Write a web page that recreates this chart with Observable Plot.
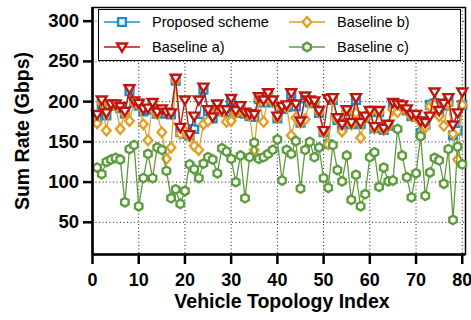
<!DOCTYPE html>
<html><head><meta charset="utf-8">
<script src="https://cdn.jsdelivr.net/npm/d3@7"></script>
<script src="https://cdn.jsdelivr.net/npm/@observablehq/plot@0.6"></script>
<style>
body{margin:0;background:#fff}
svg{font-family:"Liberation Sans",Arial,sans-serif}
[aria-label="x-axis tick label"] text,[aria-label="y-axis tick label"] text{font-weight:bold}
</style>
</head><body><div id="chart"></div>
<script>
const topologyIndex = [1,2,3,4,5,6,7,8,9,10,11,12,13,14,15,16,17,18,19,20,21,22,23,24,25,26,27,28,29,30,31,32,33,34,35,36,37,38,39,40,41,42,43,44,45,46,47,48,49,50,51,52,53,54,55,56,57,58,59,60,61,62,63,64,65,66,67,68,69,70,71,72,73,74,75,76,77,78,79,80];
const proposed = [181,197,183,195,195,192,185,213,199,195,188,190,197,185,188,185,184,226,162,160,158,166,175,215,188,179,195,188,187,201,186,192,185,182,181,203,199,207,199,179,191,193,207,194,174,204,199,198,186,162,147,202,177,170,188,172,202,172,180,187,167,187,165,170,197,195,194,189,182,181,161,171,196,198,186,195,200,158,164,196];
const baselineA = [184,202,186,197,197,194,188,216,201,198,191,192,199,187,191,187,186,229,168,202,159,182,202,218,190,181,197,190,190,204,189,195,187,185,184,206,202,211,202,182,194,196,211,197,176,207,202,201,189,164,204,205,180,172,190,174,205,174,182,189,169,189,167,172,199,197,196,191,184,184,176,174,182,212,189,198,205,171,186,212];
const baselineB = [173,199,164,195,195,166,186,176,199,196,172,152,197,185,162,129,143,227,160,163,157,145,140,172,176,183,195,188,175,176,186,193,185,183,140,203,175,208,200,180,192,194,158,180,174,178,200,199,187,162,147,203,178,163,188,172,186,155,180,187,167,187,165,170,190,187,194,189,182,181,158,168,194,196,182,170,198,160,128,196];
const baselineC = [118,110,125,128,130,128,75,141,146,70,105,135,105,143,140,114,80,91,73,89,122,116,105,123,131,128,111,142,138,129,100,133,80,131,149,129,131,135,140,153,102,140,135,151,92,140,150,131,143,105,93,146,115,101,133,78,109,70,85,131,137,94,118,101,102,166,133,106,81,111,157,83,112,130,127,98,141,53,144,122];
const seriesNames = ["Proposed scheme","Baseline a)","Baseline b)","Baseline c)"];
const xTicks = [0,10,20,30,40,50,60,70,80];
const yTicks = [50,100,150,200,250,300];

const colors = {"Proposed scheme":"#1b8fd3","Baseline a)":"#c0150d","Baseline b)":"#e2a026","Baseline c)":"#5e9d3d"};

function pts(arr){ return {draw(ctx,size){const s=Math.sqrt(size/Math.PI);ctx.moveTo(arr[0][0]*s,arr[0][1]*s);for(let k=1;k<arr.length;k++)ctx.lineTo(arr[k][0]*s,arr[k][1]*s);ctx.closePath();}}; }
const hex = []; for(let k=0;k<6;k++){const a=Math.PI/6+k*Math.PI/3;hex.push([Math.cos(a)*1.05,Math.sin(a)*1.05]);}
const symbols = {
  "Proposed scheme": pts([[-0.95,-0.95],[0.95,-0.95],[0.95,0.95],[-0.95,0.95]]),
  "Baseline a)": pts([[-1.2,-0.85],[1.2,-0.85],[0,1.15]]),
  "Baseline b)": pts([[0,-1.2],[1.05,0],[0,1.2],[-1.05,0]]),
  "Baseline c)": pts(hex)
};
const valuesBySeries = {"Proposed scheme":proposed,"Baseline a)":baselineA,"Baseline b)":baselineB,"Baseline c)":baselineC};
const drawOrder = ["Proposed scheme","Baseline b)","Baseline a)","Baseline c)"];

const seriesMarks = drawOrder.flatMap(name => {
  const data = topologyIndex.map((x,k)=>({x, y: valuesBySeries[name][k]}));
  return [
    Plot.line(data,{x:"x",y:"y",stroke:colors[name],strokeWidth:1.3}),
    Plot.dot(data,{x:"x",y:"y",symbol:symbols[name],r:4.1,stroke:colors[name],strokeWidth:2.4,fill:"white"})
  ];
});

const plot = Plot.plot({
  width:471, height:320,
  marginLeft:92, marginRight:6, marginTop:7, marginBottom:66,
  x:{domain:[0,80.7]},
  y:{domain:[10,317]},
  style:{fontFamily:'"Liberation Sans",Arial,sans-serif',background:"white",color:"#000"},
  marks:[
    Plot.gridX(xTicks.filter(d=>d>0),{stroke:"#222",strokeOpacity:1,strokeWidth:1,strokeDasharray:"1,2.5"}),
    Plot.gridY(yTicks,{stroke:"#222",strokeOpacity:1,strokeWidth:1,strokeDasharray:"1,2.5"}),
    Plot.frame({stroke:"#000",strokeWidth:1.5}),
    ...seriesMarks,
    Plot.axisX(xTicks,{tickSize:10,tickPadding:9,fontSize:18,fontWeight:"bold",strokeWidth:2.5,label:null}),
    Plot.axisY(yTicks,{tickSize:9,tickPadding:4.5,fontSize:18.5,fontWeight:"bold",strokeWidth:2.5,label:null}),
    Plot.ruleY([10],{strokeWidth:2.6}),
    Plot.ruleX([0],{strokeWidth:2.6})
  ]
});
document.getElementById("chart").appendChild(plot);

const svg = d3.select(plot);
svg.append("text").attr("x",282).attr("y",308).attr("text-anchor","middle")
  .attr("font-size",19.5).attr("font-weight","bold").text("Vehicle Topology Index");
svg.append("text").attr("transform","translate(29,131) rotate(-90)").attr("text-anchor","middle")
  .attr("font-size",19.5).attr("font-weight","bold").text("Sum Rate (Gbps)");

// legend
const lg = svg.append("g");
lg.append("rect").attr("x",98.5).attr("y",9.5).attr("width",362).attr("height",51)
  .attr("fill","white").attr("stroke","#000").attr("stroke-width",1);
const legendPos = [[104,22],[104,47],[289,22],[289,47]];
seriesNames.forEach((name,k)=>{
  const [lx,ly] = legendPos[k];
  lg.append("line").attr("x1",lx).attr("x2",lx+36).attr("y1",ly).attr("y2",ly)
    .attr("stroke",colors[name]).attr("stroke-width",1.3);
  lg.append("path").attr("transform",`translate(${lx+18},${ly})`)
    .attr("d",d3.symbol(symbols[name],4.1*4.1*Math.PI)())
    .attr("fill","white").attr("stroke",colors[name]).attr("stroke-width",2.4);
  lg.append("text").attr("x",lx+48).attr("y",ly).attr("dy","0.35em")
    .attr("text-anchor","start").attr("font-size",14.5).text(name);
});
</script>
</body></html>
